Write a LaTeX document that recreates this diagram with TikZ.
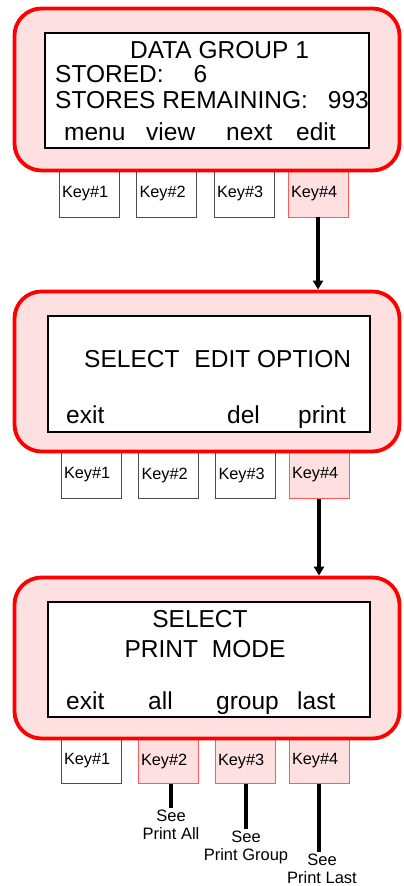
\documentclass[tikz,border=0pt]{standalone}
\usepackage{fontspec}
\setmainfont{Liberation Sans}
\usetikzlibrary{arrows.meta}
\definecolor{pnk}{HTML}{FFE0E0}
\definecolor{keyred}{HTML}{FF5A5A}
\begin{document}
\begin{tikzpicture}[x=1pt,y=-1pt,
 panel/.style={draw=red, fill=pnk, line width=3.8pt, rounded corners=27pt, inner sep=0pt},
 screen/.style={draw=black, fill=white, line width=2.6pt, inner sep=0pt},
 lcd/.style={font=\fontsize{24.5}{29}\selectfont, inner sep=0pt},
 keybox/.style={draw=black!70, fill=white, line width=0.8pt, minimum width=60pt, inner xsep=3pt, inner ysep=0pt, text width=54pt, align=left, font=\fontsize{16.3}{18}\selectfont},
 keyon/.style={keybox, draw=keyred, fill=pnk},
 flow/.style={line width=3.5pt, -{Triangle[length=9pt,width=10pt]}},
 lead/.style={line width=3.5pt},
 note/.style={align=center, font=\fontsize{16.5}{17.5}\selectfont, inner xsep=0pt, inner ysep=2pt, anchor=north}]
\useasboundingbox (0,0) rectangle (404,886);

% keys row 1
\node[keybox, minimum height=46.5pt] (k11) at (89,193.75) {Key\#1};
\node[keybox, minimum height=46.5pt] (k12) at (166.5,193.75) {Key\#2};
\node[keybox, minimum height=46.5pt] (k13) at (244,193.75) {Key\#3};
\node[keyon, minimum height=46.5pt] (k14) at (318,193.75) {Key\#4};
% keys row 2
\node[keybox, minimum height=47.5pt] (k21) at (91,475) {Key\#1};
\node[keybox, minimum height=47.5pt] (k22) at (168.5,475) {Key\#2};
\node[keybox, minimum height=47.5pt] (k23) at (245.5,475) {Key\#3};
\node[keyon, minimum height=47.5pt] (k24) at (319,475) {Key\#4};
% keys row 3
\node[keybox, minimum height=45.5pt] (k31) at (91,761) {Key\#1};
\node[keyon, minimum height=45.5pt] (k32) at (168,761) {Key\#2};
\node[keyon, minimum height=45.5pt] (k33) at (245,761) {Key\#3};
\node[keyon, minimum height=45.5pt] (k34) at (319,761) {Key\#4};

% panels
\node[panel, minimum width=385pt, minimum height=162pt] (p1) at (207,89.5) {};
\node[panel, minimum width=385pt, minimum height=160pt] (p2) at (207,371.5) {};
\node[panel, minimum width=385pt, minimum height=161pt] (p3) at (207,658) {};

% screens
\node[screen, minimum width=324pt, minimum height=115pt] (s1) at (207,90.5) {};
\node[screen, minimum width=322pt, minimum height=116pt] (s2) at (209,374) {};
\node[screen, minimum width=322pt, minimum height=115pt] (s3) at (209,659.5) {};

% screen 1 text
\node[lcd, anchor=base] (t11) at (219.5,58) {DATA GROUP 1};
\node[lcd, anchor=base west] (t12) at (55,82) {STORED:\hspace{30pt}6};
\node[lcd, anchor=base west] (t13) at (55,108) {STORES REMAINING:\hspace{20pt}993};
\node[lcd, anchor=base west] (t14) at (64,140) {menu};
\node[lcd, anchor=base west] (t15) at (146,140) {view};
\node[lcd, anchor=base west] (t16) at (226,140) {next};
\node[lcd, anchor=base west] (t17) at (296,140) {edit};

% screen 2 text
\node[lcd, anchor=base west] (t21) at (84,367) {SELECT\hspace{15pt}EDIT OPTION};
\node[lcd, anchor=base west] (t22) at (66,423) {exit};
\node[lcd, anchor=base west] (t23) at (227,423) {del};
\node[lcd, anchor=base west] (t24) at (298,423) {print};

% screen 3 text
\node[lcd, anchor=base] (t31) at (200,627) {SELECT};
\node[lcd, anchor=base] (t32) at (205,657) {PRINT\hspace{14pt}MODE};
\node[lcd, anchor=base west] (t33) at (66,709) {exit};
\node[lcd, anchor=base west] (t34) at (148,709) {all};
\node[lcd, anchor=base west] (t35) at (216,709) {group};
\node[lcd, anchor=base west] (t36) at (297,709) {last};

% flow arrows
\draw[flow] (k14.south) -- (k14.south |- p2.north);
\draw[flow] (k24.south) -- (k24.south |- p3.north);

% notes
\node[note] (n2) at (171,808) {See\\Print All};
\node[note] (n3) at (246,829) {See\\Print Group};
\node[note] (n4) at (322,852) {See\\Print Last};
\draw[lead] (n2.north |- k32.south) -- (n2.north);
\draw[lead] (n3.north |- k33.south) -- (n3.north);
\draw[lead] (k34.south) -- (k34.south |- n4.north);
\end{tikzpicture}
\end{document}
